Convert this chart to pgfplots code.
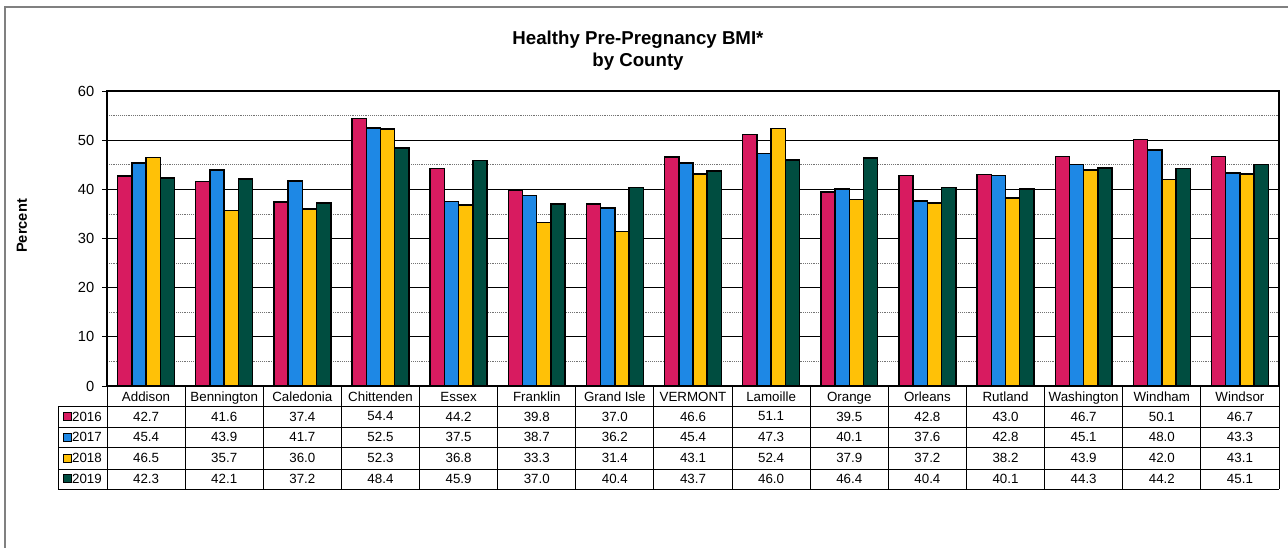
\documentclass[border=0pt]{standalone}
\usepackage{fontspec}
\setmainfont{Liberation Sans}
\usepackage{pgfplots}
\usepackage{pgfplotstable}
\pgfplotsset{compat=1.18}

\definecolor{c16}{HTML}{D81B60}
\definecolor{c17}{HTML}{1E88E5}
\definecolor{c18}{HTML}{FFC107}
\definecolor{c19}{HTML}{004D40}

% healthy pre-pregnancy BMI, percent, by county and year
\pgfplotstableread{
i  y16  y17  y18  y19
0  42.7 45.4 46.5 42.3
1  41.6 43.9 35.7 42.1
2  37.4 41.7 36.0 37.2
3  54.4 52.5 52.3 48.4
4  44.2 37.5 36.8 45.9
5  39.8 38.7 33.3 37.0
6  37.0 36.2 31.4 40.4
7  46.6 45.4 43.1 43.7
8  51.1 47.3 52.4 46.0
9  39.5 40.1 37.9 46.4
10 42.8 37.6 37.2 40.4
11 43.0 42.8 38.2 40.1
12 46.7 45.1 43.9 44.3
13 50.1 48.0 42.0 44.2
14 46.7 43.3 43.1 45.1
}\bmi

\newcommand{\tabfont}{\fontsize{10}{12}\selectfont}

\begin{document}
\begin{tikzpicture}[x=0.75pt,y=0.75pt]
% outer chart frame (cut off at right and bottom)
\draw[black!50, line width=1.1pt] (5,-20) -- (5,541) -- (1310,541);

\node[align=center, font=\bfseries\fontsize{14}{16.5}\selectfont] at (638,497) {Healthy Pre-Pregnancy BMI*\\by County};
\node[rotate=90, font=\bfseries\fontsize{11}{13}\selectfont] at (22,322) {Percent};

\begin{axis}[
  at={(80.25pt,121.5pt)}, anchor=south west,
  scale only axis, width=879pt, height=221.25pt,
  xmin=-0.5, xmax=14.5, ymin=0, ymax=60,
  clip=false,
  /pgf/number format/assume math mode=true,
  ytick={0,10,...,60}, minor ytick={5,15,...,55},
  ymajorgrids, yminorgrids,
  major grid style={black, line width=0.6pt},
  minor grid style={black!55, densely dotted, line width=0.6pt},
  axis line style={black, line width=0.9pt},
  tick align=outside, ytick pos=left, xtick pos=bottom,
  major tick length=3.5pt, minor tick length=0pt,
  ytick style={black, line width=0.6pt},
  yticklabel style={font=\fontsize{11}{13}\selectfont, xshift=-2.5pt},
  xtick={0,...,14},
  xticklabels={Addison,Bennington,Caledonia,Chittenden,Essex,Franklin,Grand Isle,VERMONT,Lamoille,Orange,Orleans,Rutland,Washington,Windham,Windsor},
  xtick style={draw=none},
  xticklabel style={font=\tabfont, anchor=base, yshift=-7.9pt},
]
\addplot[ybar, bar width=0.182, bar shift=-0.273, fill=c16, draw=black, line width=1.1pt] table[x=i,y=y16]{\bmi};
\addplot[ybar, bar width=0.182, bar shift=-0.091, fill=c17, draw=black, line width=1.1pt] table[x=i,y=y17]{\bmi};
\addplot[ybar, bar width=0.182, bar shift=0.091, fill=c18, draw=black, line width=1.1pt] table[x=i,y=y18]{\bmi};
\addplot[ybar, bar width=0.182, bar shift=0.273, fill=c19, draw=black, line width=1.1pt] table[x=i,y=y19]{\bmi};

% data table values
\pgfplotsset{tabval/.style={draw=none,
  nodes near coords={\pgfmathprintnumber[fixed,fixed zerofill,precision=1]{\pgfplotspointmeta}},
  nodes near coords style={anchor=center, font=\tabfont, inner sep=0pt},
  point meta=explicit}}
\addplot[tabval] table[x=i, y expr=-6.20, meta=y16]{\bmi};
\addplot[tabval] table[x=i, y expr=-10.42, meta=y17]{\bmi};
\addplot[tabval] table[x=i, y expr=-14.69, meta=y18]{\bmi};
\addplot[tabval] table[x=i, y expr=-18.91, meta=y19]{\bmi};

% table grid
\pgfplotsinvokeforeach{-4.07,-8.34,-12.51,-16.88,-20.95}{
  \draw[black, line width=0.7pt] (axis cs:-1.127,#1) -- (axis cs:14.5,#1);
}
\pgfplotsinvokeforeach{-0.5,0.5,...,14.5}{
  \draw[black, line width=0.7pt] (axis cs:#1,0) -- (axis cs:#1,-20.95);
}
\draw[black, line width=0.7pt] (axis cs:-1.127,-4.07) -- (axis cs:-1.127,-20.95);

% legend keys
\node[draw=black, fill=c16, minimum size=6pt, inner sep=0pt, line width=0.7pt] at (axis cs:-1.012,-6.20) {};
\node[draw=black, fill=c17, minimum size=6pt, inner sep=0pt, line width=0.7pt] at (axis cs:-1.012,-10.42) {};
\node[draw=black, fill=c18, minimum size=6pt, inner sep=0pt, line width=0.7pt] at (axis cs:-1.012,-14.69) {};
\node[draw=black, fill=c19, minimum size=6pt, inner sep=0pt, line width=0.7pt] at (axis cs:-1.012,-18.91) {};
\node[anchor=west, inner sep=0pt, font=\tabfont] at (axis cs:-0.95,-6.20) {2016};
\node[anchor=west, inner sep=0pt, font=\tabfont] at (axis cs:-0.95,-10.42) {2017};
\node[anchor=west, inner sep=0pt, font=\tabfont] at (axis cs:-0.95,-14.69) {2018};
\node[anchor=west, inner sep=0pt, font=\tabfont] at (axis cs:-0.95,-18.91) {2019};
\end{axis}

\pgfresetboundingbox
\useasboundingbox (0,0) rectangle (1288,548);
\end{tikzpicture}
\end{document}
